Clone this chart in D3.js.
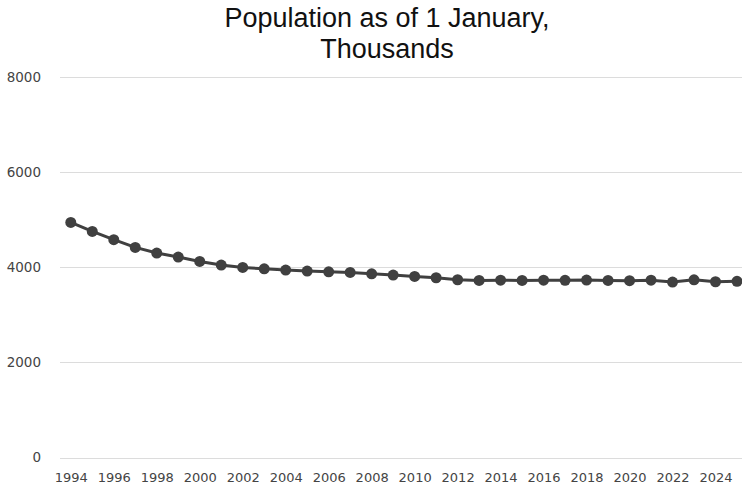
<!DOCTYPE html>
<html>
<head>
<meta charset="utf-8">
<script src="https://cdn.jsdelivr.net/npm/d3@7"></script>
<style>
  html, body { margin: 0; padding: 0; background: #fff; }
  svg { display: block; }
</style>
</head>
<body>
<svg id="chart" width="742" height="485"></svg>
<script>
// Population on 1 January, thousands
const years = d3.range(1994, 2026);
const population = [
  4943, 4754, 4579, 4417, 4299, 4215, 4122, 4046, 3996, 3968,
  3941, 3920, 3905, 3891, 3863, 3836, 3806, 3779, 3737, 3722,
  3727, 3722, 3729, 3726, 3730, 3724, 3717, 3729, 3689, 3736,
  3695, 3705
];
const yTicks = [0, 2000, 4000, 6000, 8000];
const xTicks = d3.range(1994, 2025, 2);
const titleLines = ["Population as of 1 January,", "Thousands"];

const svg = d3.select("#chart");
const left = 60, right = 742;

const x = d3.scaleLinear().domain([1994, 2025]).range([70.8, 737]);
const y = d3.scaleLinear().domain([0, 8000]).range([457.5, 77]);

// title
svg.append("text")
  .attr("x", 387).attr("y", 26.7)
  .attr("text-anchor", "middle")
  .attr("font-family", "'Liberation Sans', Arial, sans-serif")
  .attr("font-size", 27)
  .attr("fill", "#111")
  .selectAll("tspan").data(titleLines).join("tspan")
  .attr("x", 387).attr("dy", (d, i) => i === 0 ? 0 : 31.6)
  .text(d => d);

// horizontal grid
svg.append("g").selectAll("line").data(yTicks).join("line")
  .attr("x1", left).attr("x2", right)
  .attr("y1", d => Math.round(y(d)) + 0.5).attr("y2", d => Math.round(y(d)) + 0.5)
  .attr("stroke", "#dcdcdc").attr("stroke-width", 1);

// y-axis labels
const yAxis = d3.axisLeft(y).tickValues(yTicks).tickSize(0).tickPadding(0).tickFormat(d3.format("d"));
const gy = svg.append("g").attr("transform", "translate(41,0)").call(yAxis);
gy.select(".domain").remove();
gy.selectAll("text")
  .attr("font-family", "'DejaVu Sans', Verdana, sans-serif")
  .attr("font-size", 13.5)
  .attr("fill", "#444");

// x-axis labels
const xAxis = d3.axisBottom(x).tickValues(xTicks).tickSize(0).tickPadding(0).tickFormat(d3.format("d"));
const gx = svg.append("g").attr("transform", "translate(0,0)").call(xAxis);
gx.select(".domain").remove();
gx.selectAll("text")
  .attr("y", 481.5)
  .attr("dy", null)
  .attr("font-family", "'DejaVu Sans', Verdana, sans-serif")
  .attr("font-size", 13)
  .attr("fill", "#444");

// series line
const pts = years.map((yr, i) => ({ yr, v: population[i] }));
svg.append("path")
  .datum(pts)
  .attr("fill", "none")
  .attr("stroke", "#404040")
  .attr("stroke-width", 3)
  .attr("stroke-linejoin", "round")
  .attr("d", d3.line().x(d => x(d.yr)).y(d => y(d.v)));

// markers
svg.append("g").selectAll("circle").data(pts).join("circle")
  .attr("cx", d => x(d.yr)).attr("cy", d => y(d.v))
  .attr("r", 5.5)
  .attr("fill", "#404040");
</script>
</body>
</html>
